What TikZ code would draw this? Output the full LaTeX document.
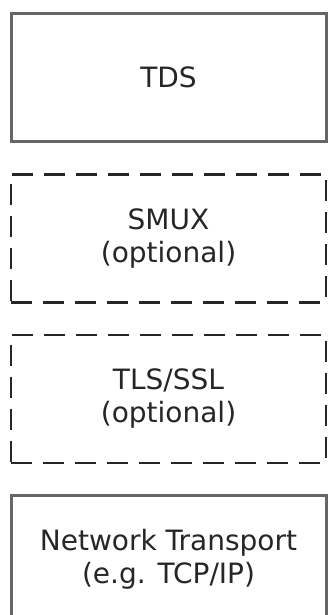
\documentclass[tikz,border=0pt]{standalone}
\usepackage{fontspec}
\setmainfont{DejaVu Sans}
\usetikzlibrary{positioning}

\tikzset{
  layer/.style={draw=black!60, line width=3pt, minimum width=315pt, minimum height=128pt,
    inner sep=0pt, align=center, text=black!85, font=\fontsize{28}{33}\selectfont},
  optlayer/.style={layer, draw=black!85, line width=2.5pt, dash pattern=on 21pt off 11pt}
}

\begin{document}
\begin{tikzpicture}[x=1pt,y=-1pt,text centered]
  \clip (0,0) rectangle (328,615);

  \node[layer] (tds) at (168.5,77.5) {TDS};

  \node[optlayer, below=30pt of tds] (smux) {SMUX\\(optional)};
  \node[optlayer, below=30pt of smux] (tls) {TLS/SSL\\(optional)};

  \node[layer, below=30pt of tls] (net) {Network Transport\\(e.g. TCP/IP)};

\end{tikzpicture}
\end{document}
